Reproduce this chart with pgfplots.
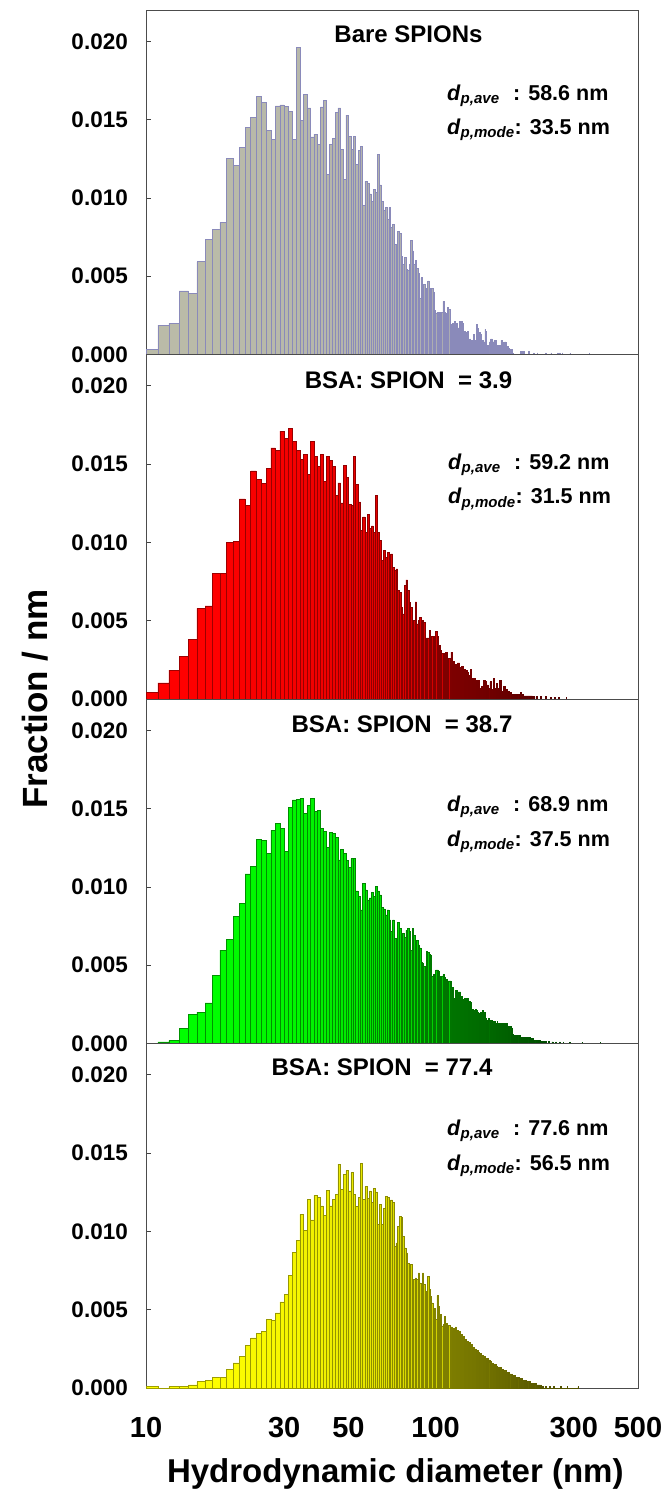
\documentclass[border=0pt]{standalone}
\usepackage{fontspec}
\setmainfont{Liberation Sans}
\usepackage{pgfplots}
\usepackage{pgfplotstable}
\pgfplotsset{compat=1.18}

\pgfplotstableread{
d f
10 0.00032
11 0.00188
12 0.00199
13 0.00406
14 0.00391
15 0.00592
16 0.00737
17 0.00797
18 0.00844
19 0.01252
20 0.01207
21 0.01325
22 0.01451
23 0.01513
24 0.01648
25 0.01609
26 0.01430
27 0.01374
28 0.01588
29 0.01594
30 0.01584
31 0.01554
32 0.01374
33 0.01960
34 0.01496
35 0.01660
36 0.01575
37 0.01389
38 0.01408
39 0.01340
40 0.01581
41 0.01624
42 0.01150
43 0.01344
44 0.01380
45 0.01547
46 0.01575
47 0.01312
48 0.01120
49 0.01528
50 0.01391
51 0.01310
52 0.01393
53 0.01214
54 0.01304
55 0.01327
56 0.00951
57 0.01105
58 0.01090
59 0.01026
60 0.00979
61 0.01054
62 0.01036
63 0.01278
64 0.01083
65 0.00977
66 0.00919
67 0.00940
68 0.00865
69 0.00940
70 0.00812
71 0.00833
72 0.00705
73 0.00620
74 0.00786
75 0.00774
76 0.00624
77 0.00577
78 0.00620
79 0.00545
80 0.00539
81 0.00573
82 0.00731
83 0.00662
84 0.00577
85 0.00600
86 0.00550
87 0.00520
88 0.00360
89 0.00490
90 0.00360
91 0.00450
92 0.00420
93 0.00400
94 0.00470
95 0.00420
96 0.00410
97 0.00420
98 0.00400
99 0.00280
100 0.00260
101 0.00270
102 0.00240
103 0.00270
104 0.00230
105 0.00270
106 0.00340
107 0.00270
108 0.00240
109 0.00260
110 0.00300
111 0.00290
112 0.00110
113 0.00190
114 0.00200
115 0.00190
116 0.00210
117 0.00200
118 0.00200
119 0.00170
120 0.00170
121 0.00210
122 0.00140
123 0.00210
124 0.00200
125 0.00140
126 0.00150
127 0.00130
128 0.00140
129 0.00150
130 0.00090
131 0.00100
132 0.00090
133 0.00080
134 0.00090
135 0.00130
136 0.00090
137 0.00090
138 0.00190
139 0.00170
140 0.00060
141 0.00060
142 0.00140
143 0.00130
144 0.00090
145 0.00090
146 0.00080
147 0.00080
148 0.00160
149 0.00150
150 0.00060
151 0.00060
152 0.00060
153 0.00080
154 0.00080
155 0.00100
156 0.00100
157 0.00080
158 0.00080
159 0.00090
160 0.00090
161 0.00090
162 0.00040
163 0.00040
164 0.00060
165 0.00060
166 0.00060
167 0.00060
168 0.00090
169 0.00090
170 0.00080
171 0.00030
172 0.00030
173 0.00080
174 0.00080
175 0.00070
176 0.00050
177 0.00050
178 0.00050
179 0.00040
180 0.00030
181 0.00030
182 0.00030
183 0.00030
184 0.00010
185 0.00005
186 0
196 0.00020
197 0.00020
198 0.00020
199 0
201 0.00020
202 0
209 0.00020
210 0
218 0.00010
219 0
224 0.00010
225 0
240 0.00010
241 0
250 0.00010
251 0
264 0.00010
265 0
268 0.00010
269 0
274 0.00010
275 0
291 0.00008
292 0
339 0.00010
340 0
}\tabA

\pgfplotstableread{
d f
10 0.00040
11 0.00103
12 0.00184
13 0.00271
14 0.00378
15 0.00579
16 0.00594
17 0.00801
18 0.00801
19 0.01002
20 0.01009
21 0.01278
22 0.01237
23 0.01457
24 0.01404
25 0.01376
26 0.01475
27 0.01603
28 0.01586
29 0.01710
30 0.01665
31 0.01729
32 0.01645
33 0.01590
34 0.01530
35 0.01562
36 0.01434
37 0.01643
38 0.01551
39 0.01483
40 0.01562
41 0.01387
42 0.01547
43 0.01522
44 0.01483
45 0.01301
46 0.01380
47 0.01252
48 0.01492
49 0.01415
50 0.01244
51 0.01237
52 0.01547
53 0.01368
54 0.01259
55 0.01077
56 0.01163
57 0.01066
58 0.01177
59 0.01088
60 0.01105
61 0.01066
62 0.01301
63 0.01066
64 0.01013
65 0.00885
66 0.00949
67 0.00906
68 0.00938
69 0.00821
70 0.00927
71 0.00842
72 0.00821
73 0.00831
74 0.00692
75 0.00682
76 0.00586
77 0.00543
78 0.00724
79 0.00761
80 0.00692
81 0.00618
82 0.00586
83 0.00479
84 0.00500
85 0.00620
86 0.00480
87 0.00500
88 0.00520
89 0.00480
90 0.00500
91 0.00490
92 0.00360
93 0.00390
94 0.00390
95 0.00440
96 0.00360
97 0.00400
98 0.00400
99 0.00330
100 0.00430
101 0.00400
102 0.00340
103 0.00340
104 0.00310
105 0.00290
106 0.00290
107 0.00270
108 0.00300
109 0.00300
110 0.00260
111 0.00260
112 0.00220
113 0.00300
114 0.00240
115 0.00240
116 0.00200
117 0.00220
118 0.00220
119 0.00230
120 0.00230
121 0.00200
122 0.00190
123 0.00210
124 0.00210
125 0.00190
126 0.00190
127 0.00180
128 0.00180
129 0.00170
130 0.00150
131 0.00150
132 0.00190
133 0.00130
134 0.00130
135 0.00130
136 0.00130
137 0.00120
138 0.00120
139 0.00120
140 0.00120
141 0.00120
142 0.00070
143 0.00070
144 0.00080
145 0.00080
146 0.00120
147 0.00120
148 0.00110
149 0.00110
150 0.00090
151 0.00090
152 0.00070
153 0.00070
154 0.00110
155 0.00110
156 0.00060
157 0.00060
158 0.00130
159 0.00130
160 0.00070
161 0.00070
162 0.00100
163 0.00100
164 0.00070
165 0.00070
166 0.00120
167 0.00120
168 0.00050
169 0.00050
170 0.00050
171 0.00080
172 0.00080
173 0.00080
174 0.00060
175 0.00060
176 0.00060
177 0.00050
178 0.00050
179 0.00050
180 0.00040
181 0.00040
182 0.00030
183 0.00030
184 0.00030
185 0.00030
186 0.00030
187 0.00030
188 0.00030
189 0.00030
190 0.00030
191 0.00030
192 0.00030
193 0.00030
194 0.00030
195 0.00030
196 0.00040
197 0.00030
198 0.00030
199 0.00030
200 0.00030
201 0.00020
202 0.00020
203 0.00020
204 0.00020
205 0.00020
206 0.00020
207 0.00020
208 0.00020
209 0.00020
210 0.00020
211 0.00020
212 0.00020
213 0.00020
214 0.00020
215 0.00020
216 0.00015
217 0.00015
218 0.00015
219 0
222 0.00015
223 0.00015
224 0.00015
225 0
230 0.00015
231 0
240 0.00015
241 0
249 0.00010
250 0
258 0.00010
259 0
266 0.00010
267 0
282 0.00008
283 0
}\tabB

\pgfplotstableread{
d f
10 0
11 0.00010
12 0.00020
13 0.00094
14 0.00184
15 0.00200
16 0.00259
17 0.00436
18 0.00596
19 0.00665
20 0.00810
21 0.00895
22 0.01083
23 0.01133
24 0.01301
25 0.01295
26 0.01214
27 0.01361
28 0.01406
29 0.01376
30 0.01227
31 0.01509
32 0.01556
33 0.01558
34 0.01564
35 0.01472
36 0.01522
37 0.01564
38 0.01483
39 0.01490
40 0.01376
41 0.01355
42 0.01252
43 0.01350
44 0.01344
45 0.01316
46 0.01173
47 0.01237
48 0.01216
49 0.01167
50 0.01124
51 0.01180
52 0.01180
53 0.00974
54 0.00938
55 0.00853
56 0.01024
57 0.00981
58 0.00917
59 0.00930
60 0.00966
61 0.00938
62 0.01002
63 0.00974
64 0.00949
65 0.00868
66 0.00859
67 0.00821
68 0.00853
69 0.00789
70 0.00714
71 0.00789
72 0.00671
73 0.00671
74 0.00774
75 0.00735
76 0.00596
77 0.00703
78 0.00675
79 0.00724
80 0.00735
81 0.00714
82 0.00596
83 0.00735
84 0.00692
85 0.00650
86 0.00660
87 0.00630
88 0.00610
89 0.00520
90 0.00510
91 0.00490
92 0.00480
93 0.00590
94 0.00580
95 0.00570
96 0.00560
97 0.00430
98 0.00440
99 0.00440
100 0.00470
101 0.00470
102 0.00460
103 0.00430
104 0.00430
105 0.00430
106 0.00440
107 0.00420
108 0.00410
109 0.00410
110 0.00400
111 0.00400
112 0.00400
113 0.00350
114 0.00360
115 0.00280
116 0.00290
117 0.00340
118 0.00340
119 0.00330
120 0.00330
121 0.00330
122 0.00290
123 0.00300
124 0.00280
125 0.00280
126 0.00290
127 0.00280
128 0.00290
129 0.00290
130 0.00270
131 0.00270
132 0.00260
133 0.00210
134 0.00220
135 0.00210
136 0.00210
137 0.00220
138 0.00210
139 0.00200
140 0.00190
141 0.00190
142 0.00190
143 0.00200
144 0.00200
145 0.00210
146 0.00200
147 0.00190
148 0.00200
149 0.00160
150 0.00150
151 0.00150
152 0.00160
153 0.00150
154 0.00140
155 0.00140
156 0.00150
157 0.00140
158 0.00130
159 0.00140
160 0.00140
161 0.00130
162 0.00130
163 0.00140
164 0.00130
165 0.00120
166 0.00130
167 0.00130
168 0.00130
169 0.00120
170 0.00130
171 0.00130
172 0.00120
173 0.00130
174 0.00120
175 0.00120
176 0.00130
177 0.00110
178 0.00110
179 0.00110
180 0.00100
181 0.00110
182 0.00110
183 0.00100
184 0.00060
185 0.00050
186 0.00050
187 0.00050
188 0.00050
189 0.00050
190 0.00050
191 0.00050
192 0.00050
193 0.00040
194 0.00050
195 0.00050
196 0.00040
197 0.00040
198 0.00040
199 0.00040
200 0.00040
201 0.00040
202 0.00040
203 0.00040
204 0.00040
205 0.00040
206 0.00040
207 0.00040
208 0.00030
209 0.00040
210 0.00030
211 0.00030
212 0.00040
213 0.00030
214 0.00030
215 0.00030
216 0.00030
217 0.00030
218 0.00020
219 0.00020
220 0.00020
221 0.00020
222 0.00020
223 0.00020
224 0.00020
225 0.00020
226 0.00020
227 0.00020
228 0.00020
229 0.00020
230 0.00015
231 0.00015
232 0.00015
233 0.00015
234 0.00015
235 0.00015
236 0.00015
237 0.00015
238 0.00015
239 0.00015
240 0.00015
241 0
245 0.00015
246 0.00015
247 0.00010
248 0
252 0.00010
253 0.00010
254 0
260 0.00010
261 0
268 0.00010
269 0
276 0.00010
277 0
290 0.00006
291 0
320 0.00005
321 0
370 0.00005
371 0
}\tabC

\pgfplotstableread{
d f
10 0.00010
11 0
12 0.00010
13 0.00010
14 0.00020
15 0.00040
16 0.00050
17 0.00070
18 0.00070
19 0.00120
20 0.00160
21 0.00200
22 0.00270
23 0.00320
24 0.00350
25 0.00360
26 0.00440
27 0.00430
28 0.00480
29 0.00550
30 0.00600
31 0.00720
32 0.00868
33 0.00945
34 0.01109
35 0.01009
36 0.01205
37 0.01073
38 0.01231
39 0.01216
40 0.01163
41 0.01103
42 0.01263
43 0.01163
44 0.01205
45 0.01237
46 0.01430
47 0.01269
48 0.01366
49 0.01387
50 0.01259
51 0.01376
52 0.01237
53 0.01158
54 0.01216
55 0.01436
56 0.01205
57 0.01286
58 0.01210
59 0.01259
60 0.01184
61 0.01274
62 0.01252
63 0.01045
64 0.01173
65 0.01045
66 0.01145
67 0.01222
68 0.01216
69 0.00895
70 0.01201
71 0.01184
72 0.00906
73 0.00927
74 0.01034
75 0.01098
76 0.01088
77 0.00970
78 0.00895
79 0.00863
80 0.00795
81 0.00714
82 0.00789
83 0.00671
84 0.00692
85 0.00703
86 0.00692
87 0.00735
88 0.00671
89 0.00628
90 0.00735
91 0.00660
92 0.00564
93 0.00620
94 0.00714
95 0.00628
96 0.00586
97 0.00543
98 0.00500
99 0.00510
100 0.00436
101 0.00590
102 0.00520
103 0.00404
104 0.00470
105 0.00393
106 0.00404
107 0.00457
108 0.00393
109 0.00410
110 0.00380
111 0.00400
112 0.00370
113 0.00390
114 0.00360
115 0.00380
116 0.00350
117 0.00390
118 0.00360
119 0.00370
120 0.00350
121 0.00360
122 0.00330
123 0.00340
124 0.00320
125 0.00330
126 0.00310
127 0.00310
128 0.00290
129 0.00300
130 0.00280
131 0.00290
132 0.00270
133 0.00280
134 0.00260
135 0.00260
136 0.00250
137 0.00250
138 0.00240
139 0.00240
140 0.00230
141 0.00230
142 0.00220
143 0.00220
144 0.00210
145 0.00210
146 0.00200
147 0.00200
148 0.00190
149 0.00190
150 0.00180
151 0.00190
152 0.00170
153 0.00180
154 0.00160
155 0.00170
156 0.00150
157 0.00160
158 0.00150
159 0.00150
160 0.00140
161 0.00150
162 0.00130
163 0.00140
164 0.00130
165 0.00130
166 0.00120
167 0.00130
168 0.00120
169 0.00120
170 0.00110
171 0.00120
172 0.00110
173 0.00110
174 0.00100
175 0.00110
176 0.00100
177 0.00100
178 0.00090
179 0.00100
180 0.00090
181 0.00090
182 0.00080
183 0.00090
184 0.00080
185 0.00080
186 0.00070
187 0.00080
188 0.00070
189 0.00070
190 0.00070
191 0.00070
192 0.00060
193 0.00070
194 0.00060
195 0.00060
196 0.00060
197 0.00060
198 0.00050
199 0.00060
200 0.00050
201 0.00050
202 0.00050
203 0.00050
204 0.00040
205 0.00050
206 0.00040
207 0.00040
208 0.00040
209 0.00040
210 0.00040
211 0.00030
212 0.00040
213 0.00030
214 0.00030
215 0.00030
216 0.00030
217 0.00030
218 0.00030
219 0.00030
220 0.00020
221 0.00030
222 0.00020
223 0.00020
224 0.00020
225 0.00020
226 0.00020
227 0.00020
228 0.00020
229 0.00020
230 0.00010
231 0.00020
232 0.00010
233 0.00010
234 0.00010
235 0
240 0.00010
241 0.00010
242 0
248 0.00010
249 0
256 0.00010
257 0
270 0.00010
271 0
285 0.00008
286 0
310 0.00008
311 0
}\tabD

\definecolor{sA}{RGB}{186,187,168}
\definecolor{eA}{RGB}{150,150,194}
\definecolor{edA}{RGB}{138,138,186}
\definecolor{sB}{RGB}{255,0,0}
\definecolor{eB}{RGB}{128,0,0}
\definecolor{sC}{RGB}{0,255,0}
\definecolor{eC}{RGB}{0,125,0}
\definecolor{sD}{RGB}{255,255,0}
\definecolor{eD}{RGB}{128,128,0}

% gradient bars: #1 table, #2 start colour, #3 end colour, #4 edge colour, #5 last chunk index
\newcommand{\gradbars}[5]{%
  \foreach \k in {0,...,#5} {%
    \pgfmathtruncatemacro\lo{\k*4}%
    \pgfmathtruncatemacro\hiplus{\k*4+5}%
    \pgfmathtruncatemacro\p{min(100,\k*5/3)}%
    \edef\temp{\noexpand\addplot[ybar interval, line width=0.65pt,
      fill=#3!\p!#2, draw=#4,
      skip coords between index={0}{\lo},
      skip coords between index={\hiplus}{100000}]
      table[x=d,y=f]{\noexpand#1};}%
    \temp
  }%
}

\pgfplotsset{
  every axis/.append style={
    xmode=log, xmin=10, xmax=500, ymin=0, ymax=0.022,
    scale only axis, width=492pt, height=344.5pt, anchor=north west,
    axis line style={draw=black!70, line width=0.9pt},
    ytick={0,0.005,0.01,0.015,0.02},
    yticklabels={0.000,0.005,0.010,0.015,0.020},
    scaled y ticks=false,
    ytick pos=left, tick align=inside,
    major tick length=5pt,
    ytick style={draw=black!75, line width=0.8pt},
    xtick={10,30,50,100,300,500},
    xtick style={draw=none},
    xminorticks=false,
    yticklabel style={font=\fontsize{22.5}{24}\selectfont\bfseries, anchor=east, inner sep=0pt, xshift=-18pt},
  },
}

\begin{document}
\begin{tikzpicture}
\useasboundingbox (0pt,0pt) rectangle (665pt,-1491pt);

\begin{axis}[at={(146pt,-10pt)}, xticklabels={}]
\gradbars{\tabA}{sA}{eA}{edA}{50}
\end{axis}

\begin{axis}[at={(146pt,-354.5pt)}, xticklabels={}]
\gradbars{\tabB}{sB}{eB}{eB!\p!sB!62!black}{56}
\end{axis}

\begin{axis}[at={(146pt,-699pt)}, xticklabels={}]
\gradbars{\tabC}{sC}{eC}{eC!\p!sC!58!black}{62}
\end{axis}

\begin{axis}[at={(146pt,-1043.5pt)},
  xticklabels={10,30,50,100,300,500},
  xticklabel style={font=\fontsize{29}{30}\selectfont\bfseries, anchor=north, inner sep=0pt, yshift=-29pt}]
\gradbars{\tabD}{sD}{eD}{eD!\p!sD!62!black}{59}
\end{axis}

% panel titles
\node[anchor=base, font=\fontsize{24}{26}\selectfont\bfseries, inner sep=0pt] at (408.5pt,-42.7pt) {Bare SPIONs};
\node[anchor=base, font=\fontsize{24}{26}\selectfont\bfseries, inner sep=0pt] at (408.5pt,-388pt) {BSA: SPION\ \ = 3.9};
\node[anchor=base, font=\fontsize{24}{26}\selectfont\bfseries, inner sep=0pt] at (402pt,-732pt) {BSA: SPION\ \ = 38.7};
\node[anchor=base, font=\fontsize{24}{26}\selectfont\bfseries, inner sep=0pt] at (382pt,-1075pt) {BSA: SPION\ \ = 77.4};

% annotations
\tikzset{ann/.style={anchor=base west, font=\fontsize{21.5}{23}\selectfont\bfseries, inner sep=0pt}}
\node[ann] at (447pt,-100pt) {\textit{d}\textsubscript{\textit{p,ave}}};
\node[ann] at (513pt,-100pt) {: 58.6 nm};
\node[ann] at (447pt,-134pt) {\textit{d}\textsubscript{\textit{p,mode}}: 33.5 nm};
\node[ann] at (448pt,-469pt) {\textit{d}\textsubscript{\textit{p,ave}}};
\node[ann] at (514pt,-469pt) {: 59.2 nm};
\node[ann] at (448pt,-503.4pt) {\textit{d}\textsubscript{\textit{p,mode}}: 31.5 nm};
\node[ann] at (447pt,-811pt) {\textit{d}\textsubscript{\textit{p,ave}}};
\node[ann] at (513pt,-811pt) {: 68.9 nm};
\node[ann] at (447pt,-846pt) {\textit{d}\textsubscript{\textit{p,mode}}: 37.5 nm};
\node[ann] at (447pt,-1135pt) {\textit{d}\textsubscript{\textit{p,ave}}};
\node[ann] at (513pt,-1135pt) {: 77.6 nm};
\node[ann] at (447pt,-1170pt) {\textit{d}\textsubscript{\textit{p,mode}}: 56.5 nm};

% axis labels
\node[anchor=base, font=\fontsize{33}{35}\selectfont\bfseries, inner sep=0pt] at (395.3pt,-1482pt) {Hydrodynamic diameter (nm)};
\node[anchor=base, rotate=90, font=\fontsize{35}{37}\selectfont\bfseries, inner sep=0pt] at (47pt,-699pt) {Fraction / nm};
\end{tikzpicture}
\end{document}
